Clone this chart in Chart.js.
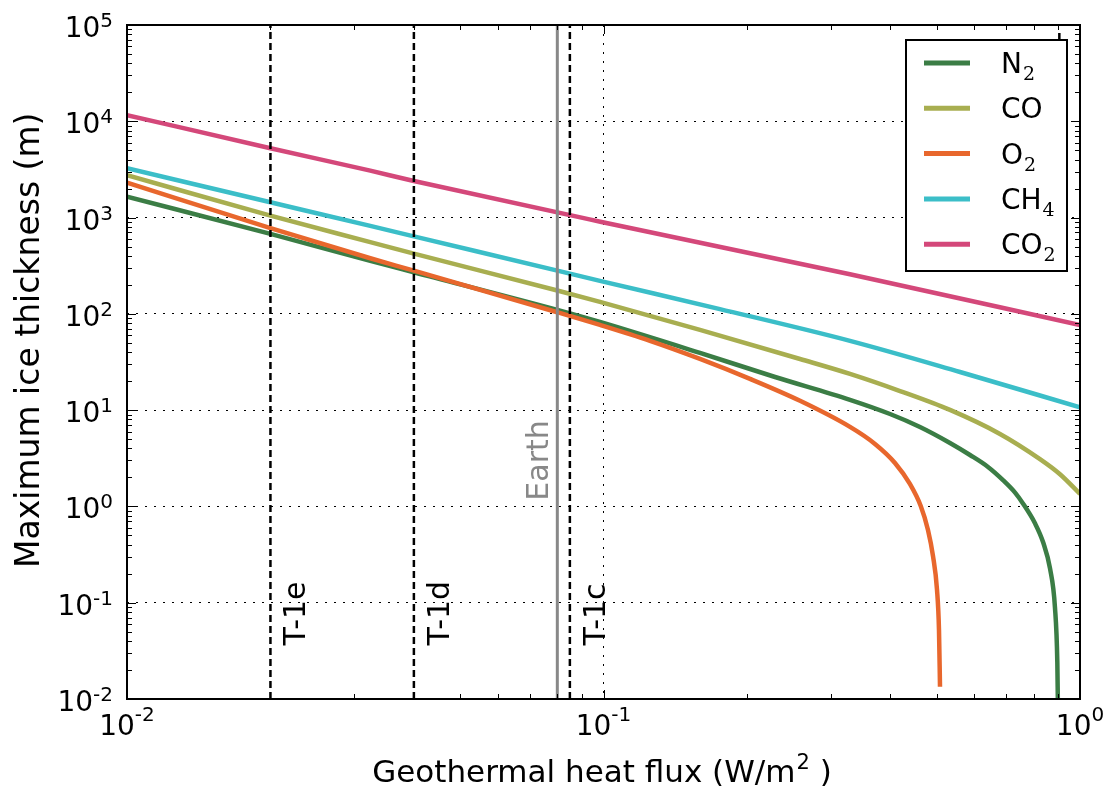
<!DOCTYPE html>
<html>
<head>
<meta charset="utf-8">
<script src="https://cdn.jsdelivr.net/npm/chart.js@4.4.1/dist/chart.umd.min.js"></script>
<style>
  html, body { margin: 0; padding: 0; background: #fff; }
</style>
</head>
<body>
<canvas id="myChart" width="1112" height="789"></canvas>
<script>
// valores (flujo en W/m2, espesor en m)
const gasBase = ["N", "CO", "O", "CH", "CO"];
const gasSub = ["2", "", "2", "4", "2"];
const gasColors = ["#3b7d45", "#a8ae50", "#e8672d", "#3bbec8", "#d4487a"];

const fluxN2 = [0.01, 0.02, 0.0324, 0.04, 0.08, 0.0983, 0.1594, 0.2291, 0.3291, 0.3993, 0.4615, 0.5335, 0.5877, 0.6411, 0.6893, 0.7307, 0.7603, 0.8045, 0.8375, 0.8651, 0.886, 0.8962, 0.8985];
const iceN2 = [1648, 676, 355, 270, 110, 82.4, 39.3, 22.1, 12.8, 9.12, 6.68, 4.56, 3.42, 2.57, 1.875, 1.39, 1.06, 0.668, 0.419, 0.227, 0.0896, 0.024, 0.0095];

const fluxCO = [0.01, 0.02, 0.0324, 0.04, 0.08, 0.0983, 0.1594, 0.2585, 0.3291, 0.4191, 0.5335, 0.6793, 0.8241, 0.9078, 1.0];
const iceCO = [2754, 1047, 556, 422, 175, 133, 68.1, 34.0, 23.8, 15.8, 10.05, 5.66, 3.10, 2.16, 1.35];

const fluxO2 = [0.01, 0.02, 0.0324, 0.04, 0.08, 0.0983, 0.1252, 0.1594, 0.203, 0.2585, 0.3291, 0.3713, 0.409, 0.4396, 0.4632, 0.4797, 0.4914, 0.5011, 0.5059, 0.5084];
const iceO2 = [2307, 776, 378, 281, 104, 76.7, 52.4, 34.0, 21.1, 12.5, 6.70, 4.46, 2.83, 1.71, 1.01, 0.57, 0.306, 0.136, 0.0522, 0.0134];

const fluxCH4 = [0.01, 0.02, 0.0324, 0.04, 0.08, 0.0983, 0.1755, 0.3291, 0.560, 1.0];
const iceCH4 = [3250, 1442, 819, 638, 281, 220, 112, 52.4, 24.9, 10.7];

const fluxCO2 = [0.01, 0.02, 0.0324, 0.04, 0.0985, 0.329, 1.0];
const iceCO2 = [11600, 5250, 3070, 2400, 906, 258, 76.7];

const markerFlux = [0.02, 0.04, 0.085];
const markerNames = ["T-1e", "T-1d", "T-1c"];
const markerLabelIce = 0.036;
const earthFlux = 0.08;
const earthLabelIce = 3.0;
const stubFlux = 0.905;
const stubIce = [82600, 69800];

const xExponents = [-2, -1, 0];
const yExponents = [-2, -1, 0, 1, 2, 3, 4, 5];

const xTitle = ["Geothermal heat flux (W/m", "2", " )"];
const yTitle = "Maximum ice thickness (m)";

const FONT = "DejaVu Sans";

function puntos(xs, ys) {
    return xs.map((x, i) => ({ x: x, y: ys[i] }));
}

function makeTicks(exps) {
    const ticks = [];
    exps.forEach((e, i) => {
        ticks.push({ value: Math.pow(10, e), major: true });
        if (i < exps.length - 1) {
            for (let m = 2; m <= 9; m++) ticks.push({ value: m * Math.pow(10, e), major: false });
        }
    });
    return ticks;
}

const series = [
    [fluxN2, iceN2], [fluxCO, iceCO], [fluxO2, iceO2], [fluxCH4, iceCH4], [fluxCO2, iceCO2]
];

const datasets = series.map((s, i) => ({
    label: gasBase[i] + gasSub[i],
    data: puntos(s[0], s[1]),
    borderColor: gasColors[i],
    borderWidth: 4.5,
    pointRadius: 0,
    cubicInterpolationMode: "monotone",
    order: 10 - i
}));

markerFlux.forEach((f) => {
    datasets.push({
        label: "",
        data: [{ x: f, y: 0.01 }, { x: f, y: 1e5 }],
        borderColor: "#000",
        borderWidth: 2.5,
        borderDash: [7, 4],
        pointRadius: 0,
        order: 0
    });
});
datasets.push({
    label: "",
    data: [{ x: earthFlux, y: 0.01 }, { x: earthFlux, y: 1e5 }],
    borderColor: "#888888",
    borderWidth: 3,
    pointRadius: 0,
    order: 0
});
datasets.push({
    label: "",
    data: [{ x: stubFlux, y: stubIce[0] }, { x: stubFlux, y: stubIce[1] }],
    borderColor: "#000",
    borderWidth: 2.5,
    pointRadius: 0,
    order: 0
});

function drawPow(ctx, exp, x, baseY, supY, align) {
    const sup = String(exp);
    ctx.font = "28px '" + FONT + "'";
    const wb = ctx.measureText("10").width;
    ctx.font = "20px '" + FONT + "'";
    const ws = ctx.measureText(sup).width;
    let start = align === "right" ? x - wb - ws : x - (wb + ws) / 2;
    ctx.textAlign = "left";
    ctx.textBaseline = "alphabetic";
    ctx.font = "28px '" + FONT + "'";
    ctx.fillText("10", start, baseY);
    ctx.font = "20px '" + FONT + "'";
    ctx.fillText(sup, start + wb, supY);
}

const decoracion = {
    id: "decoracion",
    afterDraw(chart) {
        const ctx = chart.ctx;
        const a = chart.chartArea;
        const xs = chart.scales.x;
        const ys = chart.scales.y;
        ctx.save();
        ctx.fillStyle = "#000";
        ctx.strokeStyle = "#000";

        // marcas hacia adentro en los cuatro lados
        ctx.lineWidth = 1;
        xs.ticks.forEach((t) => {
            const px = Math.round(xs.getPixelForValue(t.value)) + 0.5;
            const len = t.major ? 9 : 5;
            ctx.beginPath();
            ctx.moveTo(px, a.bottom); ctx.lineTo(px, a.bottom - len);
            ctx.moveTo(px, a.top); ctx.lineTo(px, a.top + len);
            ctx.stroke();
        });
        ys.ticks.forEach((t) => {
            const py = Math.round(ys.getPixelForValue(t.value)) + 0.5;
            const len = t.major ? 9 : 5;
            ctx.beginPath();
            ctx.moveTo(a.left, py); ctx.lineTo(a.left + len, py);
            ctx.moveTo(a.right, py); ctx.lineTo(a.right - len, py);
            ctx.stroke();
        });

        // marco
        ctx.lineWidth = 2;
        ctx.strokeRect(a.left, a.top, a.right - a.left, a.bottom - a.top);

        // etiquetas de las marcas
        xExponents.forEach((e) => {
            const px = xs.getPixelForValue(Math.pow(10, e));
            drawPow(ctx, e, px, a.bottom + 36, a.bottom + 22, "center");
        });
        yExponents.forEach((e) => {
            const py = ys.getPixelForValue(Math.pow(10, e));
            drawPow(ctx, e, a.left - 14, py + 12, py + 2, "right");
        });

        // titulos de los ejes
        ctx.textAlign = "left";
        ctx.textBaseline = "alphabetic";
        ctx.font = "31px '" + FONT + "'";
        const w0 = ctx.measureText(xTitle[0]).width;
        const w2 = ctx.measureText(xTitle[2]).width;
        ctx.font = "21px '" + FONT + "'";
        const w1 = ctx.measureText(xTitle[1]).width;
        let tx = (a.left + a.right) / 2 - (w0 + w1 + w2) / 2 - 2;
        const ty = 782;
        ctx.font = "31px '" + FONT + "'";
        ctx.fillText(xTitle[0], tx, ty);
        ctx.font = "21px '" + FONT + "'";
        ctx.fillText(xTitle[1], tx + w0 + 1, ty - 13);
        ctx.font = "31px '" + FONT + "'";
        ctx.fillText(xTitle[2], tx + w0 + w1 + 1, ty);

        ctx.save();
        ctx.translate(39, 568);
        ctx.rotate(-Math.PI / 2);
        ctx.font = "33px '" + FONT + "'";
        ctx.fillText(yTitle, 0, 0);
        ctx.restore();

        // nombres de las lineas verticales
        ctx.font = "30px '" + FONT + "'";
        markerFlux.forEach((f, i) => {
            const px = xs.getPixelForValue(f);
            const py = ys.getPixelForValue(markerLabelIce);
            ctx.save();
            ctx.translate(px + 35, py);
            ctx.rotate(-Math.PI / 2);
            ctx.textAlign = "left";
            ctx.fillStyle = "#000";
            ctx.fillText(markerNames[i], 0, 0);
            ctx.restore();
        });
        ctx.save();
        ctx.translate(xs.getPixelForValue(earthFlux) - 9, ys.getPixelForValue(earthLabelIce));
        ctx.rotate(-Math.PI / 2);
        ctx.textAlign = "center";
        ctx.fillStyle = "#888888";
        ctx.fillText("Earth", 0, 0);
        ctx.restore();

        // leyenda
        const bw = 161, bh = 231;
        const bx = a.right - 13 - bw, by = a.top + 15;
        ctx.fillStyle = "#fff";
        ctx.fillRect(bx, by, bw, bh);
        ctx.lineWidth = 2;
        ctx.strokeStyle = "#000";
        ctx.strokeRect(bx, by, bw, bh);
        ctx.textAlign = "left";
        ctx.textBaseline = "alphabetic";
        gasBase.forEach((g, i) => {
            const ry = by + 23 + i * 45.3;
            ctx.strokeStyle = gasColors[i];
            ctx.lineWidth = 5;
            ctx.beginPath();
            ctx.moveTo(bx + 18, ry);
            ctx.lineTo(bx + 64, ry);
            ctx.stroke();
            ctx.fillStyle = "#000";
            ctx.font = "28px '" + FONT + "'";
            ctx.fillText(g, bx + 95, ry + 10);
            const wg = ctx.measureText(g).width;
            ctx.font = "19px 'DejaVu Serif'";
            ctx.fillText(gasSub[i], bx + 95 + wg + 1, ry + 17);
        });
        ctx.restore();
    }
};

function ejeLog(exps, pos) {
    return {
        type: "logarithmic",
        position: pos,
        min: Math.pow(10, exps[0]),
        max: Math.pow(10, exps[exps.length - 1]),
        afterBuildTicks: (s) => { s.ticks = makeTicks(exps); },
        ticks: { display: false },
        grid: {
            color: (c) => (c.tick && c.tick.major ? "#000" : "rgba(0,0,0,0)"),
            lineWidth: 1,
            drawTicks: false
        },
        border: { display: false, dash: [2, 7] },
        title: { display: false }
    };
}

const xAxis = ejeLog(xExponents, "bottom");
xAxis.afterFit = (s) => { s.height = 90; };
const yAxis = ejeLog(yExponents, "left");
yAxis.afterFit = (s) => { s.width = 127; };

new Chart(document.getElementById("myChart"), {
    type: "line",
    data: { datasets: datasets },
    options: {
        responsive: false,
        animation: false,
        devicePixelRatio: 1,
        layout: { padding: { top: 25, right: 32, left: 0, bottom: 0 } },
        plugins: { legend: { display: false }, tooltip: { enabled: false } },
        scales: { x: xAxis, y: yAxis }
    },
    plugins: [decoracion]
});
</script>
</body>
</html>
